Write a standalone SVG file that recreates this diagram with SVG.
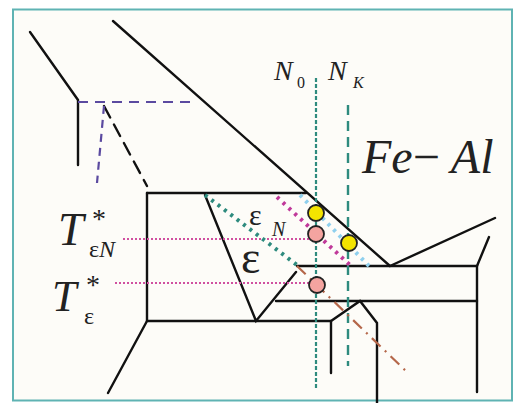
<svg xmlns="http://www.w3.org/2000/svg" width="513" height="403" viewBox="0 0 513 403">
<style>
.ln{stroke:#111;stroke-width:2.4;fill:none;stroke-linecap:round}
.lbl{font-family:"Liberation Serif",serif;font-style:italic;fill:#222}
.gr{font-family:"Liberation Serif",serif;fill:#222}
</style>
<rect x="0" y="0" width="513" height="403" fill="#ffffff"/>
<rect x="13" y="9.5" width="499" height="391" fill="#fdfcf8" stroke="#5fb3b3" stroke-width="2"/>
<g id="phase-lines">
<path class="ln" d="M30,32 L78,100 L78,165"/>
<path class="ln" d="M113,21 L390,266"/>
<path class="ln" d="M147,193 L306,193"/>
<path class="ln" d="M147,193 L147,321 L331,321 L360,301 L377,323 L377,403"/>
<path class="ln" d="M147,321 L108,393"/>
<path class="ln" d="M331,321 L331,373"/>
<path class="ln" d="M205,195 L256,321 L296,272"/>
<path class="ln" d="M297,266 L477,266 L477,392"/>
<path class="ln" d="M276,301 L477,301"/>
<path class="ln" d="M390,266 L495,218"/>
<path class="ln" d="M477,266 L489,237"/>
<path class="ln" d="M104,106 L147,186" stroke-dasharray="13,8"/>
</g>
<g id="connectors">
<path d="M78,102 L190,102" stroke="#5b4aa0" stroke-width="2.2" stroke-dasharray="10,7" fill="none"/>
<path d="M104,106 L97,183" stroke="#5b4aa0" stroke-width="2.2" stroke-dasharray="8,6" fill="none"/>
<path d="M316,78 L316,390" stroke="#2e8b7e" stroke-width="2.2" stroke-dasharray="4,2" fill="none"/>
<path d="M348,105 L348,366" stroke="#2e8b7e" stroke-width="2.4" stroke-dasharray="10,6" fill="none"/>
<path d="M123,239 L316,239" stroke="#d050a0" stroke-width="2" stroke-dasharray="2,2" fill="none"/>
<path d="M115,283 L316,283" stroke="#d050a0" stroke-width="2" stroke-dasharray="2,2" fill="none"/>
<path d="M205,195 L297,265" stroke="#2e8b7e" stroke-width="4" stroke-dasharray="3,5" fill="none"/>
<path d="M277,197 L352,267" stroke="#c0399a" stroke-width="4" stroke-dasharray="3,5" fill="none"/>
<path d="M300,195 L370,267" stroke="#8fd0ee" stroke-width="4" stroke-dasharray="3,5" fill="none"/>
<path d="M297,266 L407,372" stroke="#b5674a" stroke-width="2.2" stroke-dasharray="12,6,2,6" fill="none"/>
</g>
<g id="points">
<circle cx="316" cy="213" r="8" fill="#f4e400" stroke="#222" stroke-width="1.8"/>
<circle cx="316" cy="234" r="8" fill="#f4a4a0" stroke="#222" stroke-width="1.8"/>
<circle cx="349" cy="243" r="8" fill="#f4e400" stroke="#222" stroke-width="1.8"/>
<circle cx="317" cy="285" r="8" fill="#f4a4a0" stroke="#222" stroke-width="1.8"/>
</g>
<g id="labels">
<text class="lbl" x="274" y="80" font-size="28">N</text>
<text class="gr" x="297" y="88" font-size="16">0</text>
<text class="lbl" x="328" y="80" font-size="28">N</text>
<text class="lbl" x="353" y="88" font-size="16">K</text>
<text class="lbl" x="362" y="173" font-size="48">Fe<tspan font-style="normal">−</tspan> Al</text>
<text class="lbl" x="58" y="245" font-size="46">T</text>
<text class="gr" x="92" y="228" font-size="28">*</text>
<text class="gr" x="89" y="257" font-size="24">ε<tspan class="lbl">N</tspan></text>
<text class="lbl" x="52" y="311" font-size="44">T</text>
<text class="gr" x="86" y="294" font-size="28">*</text>
<text class="gr" x="84" y="324" font-size="24">ε</text>
<text class="gr" x="249" y="225" font-size="30">ε</text>
<text class="lbl" x="272" y="236" font-size="20">N</text>
<text class="gr" x="241" y="273" font-size="46">ε</text>
</g>
</svg>
